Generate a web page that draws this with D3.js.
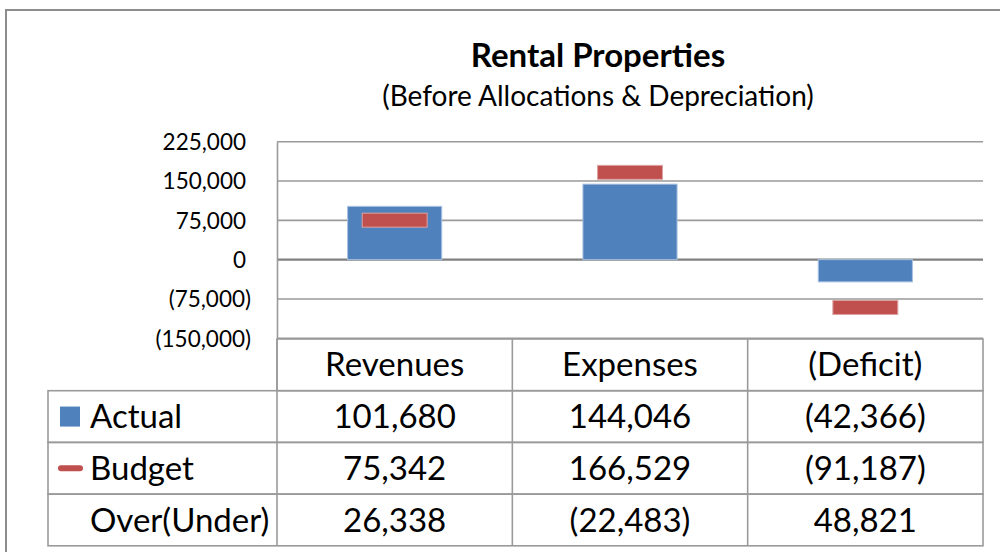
<!DOCTYPE html>
<html>
<head>
<meta charset="utf-8">
<script src="https://cdn.jsdelivr.net/npm/d3@7"></script>
<style>
  html, body { margin: 0; padding: 0; background: #fff; }
  svg { display: block; font-family: Lato, "Open Sans", sans-serif; }
</style>
</head>
<body>
<svg id="chart" width="1000" height="552"></svg>
<script>
const categories = ["Revenues", "Expenses", "(Deficit)"];
const actual = [101680, 144046, -42366];
const budget = [75342, 166529, -91187];
const overUnder = [26338, -22483, 48821];
const yTicks = [-150000, -75000, 0, 75000, 150000, 225000];
const seriesNames = ["Actual", "Budget", "Over(Under)"];

const width = 1000;
const height = 552;
const plot = { left: 277, right: 983, top: 141.7, bottom: 338.3 };
const rowH = 51.7;
const tableLeft = 48;

const blue = "#4F81BD";
const red = "#C0504D";
const lineColor = "#9a9a9a";

const num = d3.format(",");
const acct = (v) => (v < 0 ? `(${num(-v)})` : num(v));

const svg = d3.select("#chart");

// outer chart frame (runs off the right and bottom edges)
svg.append("rect")
  .attr("x", 6).attr("y", 10)
  .attr("width", 1100).attr("height", 700)
  .attr("fill", "#fff")
  .attr("stroke", "#8c8c8c")
  .attr("stroke-width", 2);

svg.append("text")
  .attr("x", 598).attr("y", 67)
  .attr("text-anchor", "middle")
  .attr("font-size", 33).attr("font-weight", "bold")
  .text("Rental Properties");

svg.append("text")
  .attr("x", 598).attr("y", 106)
  .attr("text-anchor", "middle")
  .attr("font-size", 28)
  .text("(Before Allocations & Depreciation)");

const x = d3.scaleBand()
  .domain(categories)
  .range([plot.left, plot.right])
  .paddingInner(0.6)
  .paddingOuter(0.3);

const y = d3.scaleLinear()
  .domain([-150000, 225000])
  .range([plot.bottom, plot.top]);

// gridlines
svg.append("g")
  .selectAll("line")
  .data(yTicks)
  .join("line")
  .attr("x1", plot.left).attr("x2", plot.right)
  .attr("y1", (d) => y(d)).attr("y2", (d) => y(d))
  .attr("stroke", (d) => (d === 0 ? "#808080" : lineColor))
  .attr("stroke-width", (d) => (d === 0 ? 2.2 : 1.6));

// y axis
const yAxis = svg.append("g")
  .attr("transform", `translate(${plot.left},0)`)
  .call(d3.axisLeft(y).tickValues(yTicks).tickSize(0).tickFormat(acct).tickPadding(26));
yAxis.select(".domain").attr("stroke", lineColor).attr("stroke-width", 1.6);
yAxis.selectAll(".tick text")
  .attr("font-family", "Lato, sans-serif")
  .attr("font-size", 22.5)
  .attr("fill", "#000")
  .attr("dx", (d) => (d < 0 ? 0 : -5))
  .attr("dy", "0.35em");

// actual bars
svg.append("g")
  .selectAll("rect")
  .data(categories)
  .join("rect")
  .attr("x", (d) => x(d))
  .attr("width", x.bandwidth())
  .attr("y", (d, i) => y(Math.max(0, actual[i])))
  .attr("height", (d, i) => Math.abs(y(actual[i]) - y(0)))
  .attr("fill", blue)
  .attr("stroke", "#a9c1e0")
  .attr("stroke-width", 1);

// budget markers
const mw = x.bandwidth() * 0.69;
const mh = 14;
svg.append("g")
  .selectAll("rect")
  .data(categories)
  .join("rect")
  .attr("x", (d) => x(d) + (x.bandwidth() - mw) / 2)
  .attr("width", mw)
  .attr("y", (d, i) => y(budget[i]) - mh / 2)
  .attr("height", mh)
  .attr("fill", red)
  .attr("stroke", "#dca3a2")
  .attr("stroke-width", 1);

// data table
const tableTop = plot.bottom + 0.7;
const table = svg.append("g")
  .attr("stroke", lineColor)
  .attr("stroke-width", 1.6)
  .attr("fill", "none");

// header row
table.append("rect")
  .attr("x", plot.left).attr("y", tableTop)
  .attr("width", plot.right - plot.left).attr("height", rowH);
// body rows
seriesNames.forEach((s, r) => {
  table.append("rect")
    .attr("x", tableLeft).attr("y", tableTop + rowH * (r + 1))
    .attr("width", plot.right - tableLeft).attr("height", rowH);
});
// column separators
categories.forEach((c, i) => {
  const xx = plot.left + x.step() * i;
  table.append("line")
    .attr("x1", xx).attr("x2", xx)
    .attr("y1", tableTop).attr("y2", tableTop + rowH * 4);
});

const cellFont = 33;
svg.append("g")
  .selectAll("text")
  .data(categories)
  .join("text")
  .attr("x", (d) => x(d) + x.bandwidth() / 2)
  .attr("y", tableTop + rowH / 2)
  .attr("dy", "0.35em")
  .attr("text-anchor", "middle")
  .attr("font-size", cellFont)
  .text((d) => d);

[actual, budget, overUnder].forEach((vals, r) => {
  const rowY = tableTop + rowH * (r + 1) + rowH / 2;
  svg.append("g")
    .selectAll("text")
    .data(vals)
    .join("text")
    .attr("x", (d, i) => x(categories[i]) + x.bandwidth() / 2)
    .attr("y", rowY)
    .attr("dy", "0.35em")
    .attr("text-anchor", "middle")
    .attr("font-size", cellFont)
    .text((d) => acct(d));

  svg.append("text")
    .attr("x", 90).attr("y", rowY)
    .attr("dy", "0.35em")
    .attr("font-size", cellFont)
    .text(seriesNames[r]);
});

// legend keys
const key1Y = tableTop + rowH * 1.5;
svg.append("rect")
  .attr("x", 60).attr("y", key1Y - 10)
  .attr("width", 20).attr("height", 20)
  .attr("fill", blue);
const key2Y = tableTop + rowH * 2.5;
svg.append("line")
  .attr("x1", 61).attr("x2", 80)
  .attr("y1", key2Y).attr("y2", key2Y)
  .attr("stroke", red)
  .attr("stroke-width", 6)
  .attr("stroke-linecap", "round");
</script>
</body>
</html>
